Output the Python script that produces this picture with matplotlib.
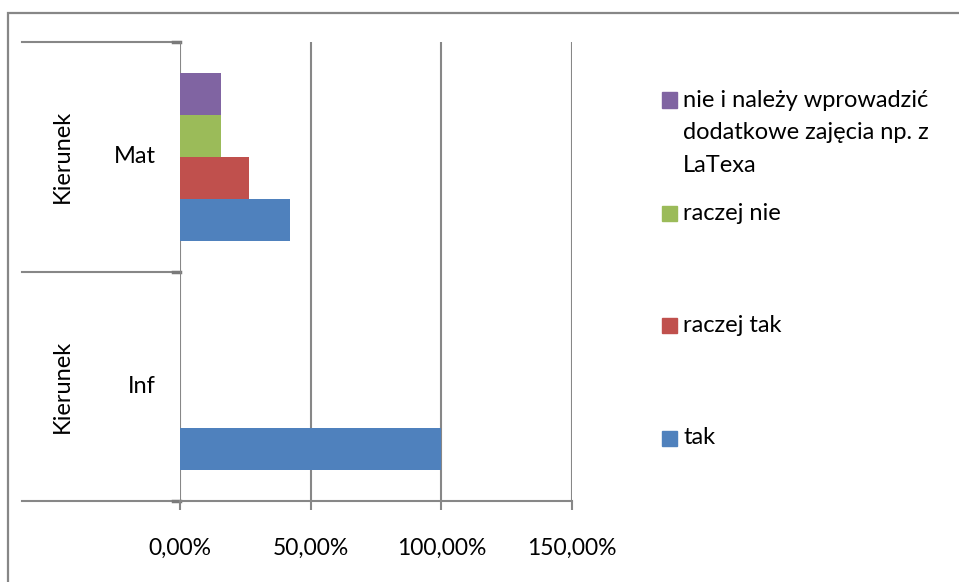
import textwrap
import matplotlib.pyplot as plt
from matplotlib.patches import Rectangle

plt.rcParams['font.family'] = ['Lato', 'DejaVu Sans']

# Dane
kategorie = ['Inf', 'Mat']
serie = ['tak', 'raczej tak', 'raczej nie',
         'nie i należy wprowadzić dodatkowe zajęcia np. z LaTexa']
wartosci = {
    'tak': [100.0, 42.11],
    'raczej tak': [0.0, 26.32],
    'raczej nie': [0.0, 15.79],
    'nie i należy wprowadzić dodatkowe zajęcia np. z LaTexa': [0.0, 15.79],
}
kolory = ['#4F81BD', '#C0504D', '#9BBB59', '#8064A2']
etykiety_x = ['0,00%', '50,00%', '100,00%', '150,00%']
tiki_x = [0, 50, 100, 150]
nazwa_grupy = 'Kierunek'

W, H = 959, 582
SZARY = '#878787'
FS = 17

fig = plt.figure(figsize=(W / 100, H / 100), dpi=100)
# obramowanie wykresu
fig.patches.append(Rectangle((8 / W, -0.5), 2, 1.5 - 13 / H, transform=fig.transFigure,
                             fill=False, edgecolor=SZARY, linewidth=1.6))

ax = fig.add_axes([180 / W, 1 - 501 / H, (572 - 180) / W, (501 - 42) / H])

h = 42 / 229.5
for i, (s, kolor) in enumerate(zip(serie, kolory)):
    pozycje = [k + (i - 1.5) * h for k in range(len(kategorie))]
    ax.barh(pozycje, wartosci[s], height=h, color=kolor, zorder=3)

ax.set_xlim(0, 150)
ax.set_ylim(-0.5, len(kategorie) - 0.5)

for sp in ['top', 'right', 'left']:
    ax.spines[sp].set_visible(False)
ax.spines['bottom'].set_color(SZARY)
ax.spines['bottom'].set_linewidth(1.5)

ax.set_xticks(tiki_x)
ax.set_xticklabels(etykiety_x, fontsize=FS - 0.5)
ax.tick_params(axis='x', length=6.5, width=1.5, color=SZARY, pad=20)
ax.grid(axis='x', color=SZARY, linewidth=1.5, zorder=0)

ax.set_yticks([])

# linie podziału kategorii (oś wielopoziomowa)
x_lewo = (22 - 180) / (572 - 180)
for y in [-0.5 + k for k in range(len(kategorie) + 1)]:
    ax.plot([x_lewo, 0], [y, y], transform=ax.get_yaxis_transform(), color=SZARY,
            linewidth=1.5, clip_on=False, zorder=1)
    ax.plot([-7 / 392, 0], [y, y], transform=ax.get_yaxis_transform(), color='#7a7a7a',
            linewidth=2.5, clip_on=False, zorder=1)

for k, kat in enumerate(kategorie):
    ax.text(-24 / 392, k, kat, transform=ax.get_yaxis_transform(), ha='right',
            va='center', fontsize=FS)
    ax.text(-118 / 392, k, nazwa_grupy, transform=ax.get_yaxis_transform(), ha='center',
            va='center', rotation=90, fontsize=FS)

# legenda
y_wpisy = [438, 325, 213, 100]
for s, kolor, yp in zip(serie, kolory, y_wpisy):
    fig.patches.append(Rectangle((662 / W, 1 - (yp + 7.5) / H), 15 / W, 15 / H,
                                 transform=fig.transFigure, color=kolor))
    for j, linia in enumerate(textwrap.wrap(s, 23)):
        fig.text(683 / W, 1 - (yp + 32.5 * j) / H, linia, ha='left', va='center',
                 fontsize=FS)

fig.savefig('out.png', dpi=100)
